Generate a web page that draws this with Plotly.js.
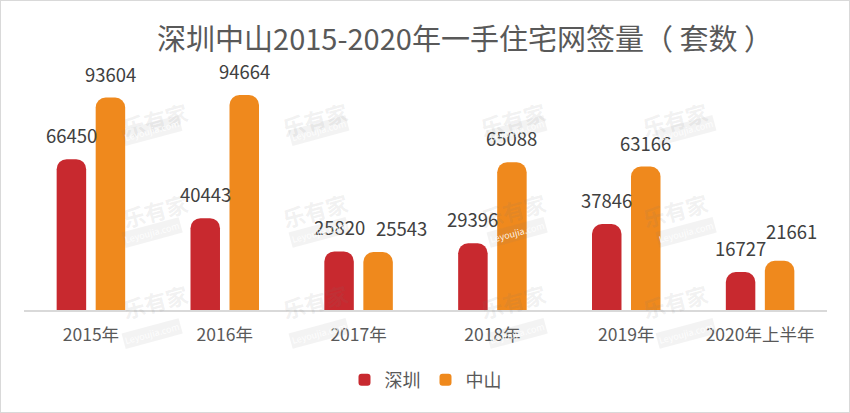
<!DOCTYPE html>
<html>
<head>
<meta charset="utf-8">
<script src="https://cdn.plot.ly/plotly-3.0.1.min.js"></script>
<style>
  html, body { margin: 0; padding: 0; background: #fff; }
  #chart { position: absolute; left: 0; top: 0; width: 850px; height: 413px; }
  #frame { position: absolute; left: 0; top: 0; width: 850px; height: 413px; box-sizing: border-box; border: 1px solid #d9d9d9; pointer-events: none; }
</style>
</head>
<body>
<div id="chart"></div>
<div id="frame"></div>
<script>
// ---- data ----
const categories = ['2015年', '2016年', '2017年', '2018年', '2019年', '2020年上半年'];
const shenzhen = [66450, 40443, 25820, 29396, 37846, 16727];
const zhongshan = [93604, 94664, 25543, 65088, 63166, 21661];
const seriesNames = ['深圳', '中山'];
const titleText = '深圳中山2015-2020年一手住宅网签量（ 套数 ）';

// ---- style ----
const RED = '#C8292F';
const ORANGE = '#EF891D';
const FONT = '"Noto Sans CJK SC", "Noto Sans", sans-serif';
const W = 850, H = 413;
const M = { l: 24, r: 23, t: 83, b: 103 };
const plotW = W - M.l - M.r, plotH = H - M.t - M.b;
const yMax = 100000;
// label nudges (px) to keep neighbouring value labels apart, as in the reference
const labelNudge = { '1-2': [23, 0], '1-5': [12, 6] };

const traces = [
  { type: 'bar', name: seriesNames[0], x: categories, y: shenzhen,
    marker: { color: RED, cornerradius: 10 }, hoverinfo: 'skip' },
  { type: 'bar', name: seriesNames[1], x: categories, y: zhongshan,
    marker: { color: ORANGE, cornerradius: 10 }, hoverinfo: 'skip' }
];

// value labels above bars
const slot = plotW / categories.length * (1 - 0.417) / 2;
const annotations = [];
[shenzhen, zhongshan].forEach((vals, si) => {
  vals.forEach((v, i) => {
    const nd = labelNudge[si + '-' + i] || [0, 0];
    annotations.push({
      x: categories[i], y: v, xref: 'x', yref: 'y',
      text: String(v), showarrow: false,
      xshift: (si === 0 ? -1 : 1) * slot / 2 + nd[0], yshift: 24 + nd[1],
      yanchor: 'middle', xanchor: 'center',
      font: { family: FONT, size: 18.5, color: '#404040' }
    });
  });
});

// faint watermarks
const wmX = [117, 315, 513, 713], wmY = [93, 210, 327];
wmX.forEach(px => wmY.forEach(py => {
  const xp = (px - M.l) / plotW, yp = (H - M.b - py) / plotH;
  annotations.push({ x: xp, y: yp, xref: 'paper', yref: 'paper', text: '<b>乐有家</b>',
    showarrow: false, textangle: -15, font: { family: FONT, size: 22, color: 'rgba(120,120,120,0.11)' } });
  annotations.push({ x: xp + 4 / plotW, y: yp - 22 / plotH, xref: 'paper', yref: 'paper', text: 'Leyoujia.com',
    showarrow: false, textangle: -15, bgcolor: 'rgba(120,120,120,0.09)', borderpad: 1,
    font: { family: FONT, size: 9, color: 'rgba(255,255,255,0.9)' } });
}));

const layout = {
  width: W, height: H,
  margin: M,
  paper_bgcolor: '#ffffff', plot_bgcolor: '#ffffff',
  font: { family: FONT, color: '#595959' },
  title: { text: titleText, x: 465 / W, xref: 'container', xanchor: 'center',
           y: 1 - 40 / H, yref: 'container', yanchor: 'middle',
           font: { family: FONT, size: 29, color: '#595959' } },
  barmode: 'group', bargap: 0.417, bargroupgap: 0.244,
  xaxis: { type: 'category', showline: true, linecolor: '#d9d9d9', linewidth: 2,
           ticks: '', showgrid: false, ticklabelstandoff: 8,
           tickfont: { family: FONT, size: 17.5, color: '#595959' },
           fixedrange: true },
  yaxis: { range: [0, yMax], visible: false, showgrid: false, zeroline: false, fixedrange: true },
  showlegend: true,
  legend: { orientation: 'h', x: 0.5, xref: 'paper', xanchor: 'center',
            y: 1 - 380 / H, yref: 'container', yanchor: 'middle',
            font: { family: FONT, size: 18, color: '#595959' }, itemwidth: 30, tracegroupgap: 0 },
  annotations: annotations
};

Plotly.newPlot('chart', traces, layout, { staticPlot: true, displayModeBar: false });
</script>
</body>
</html>
